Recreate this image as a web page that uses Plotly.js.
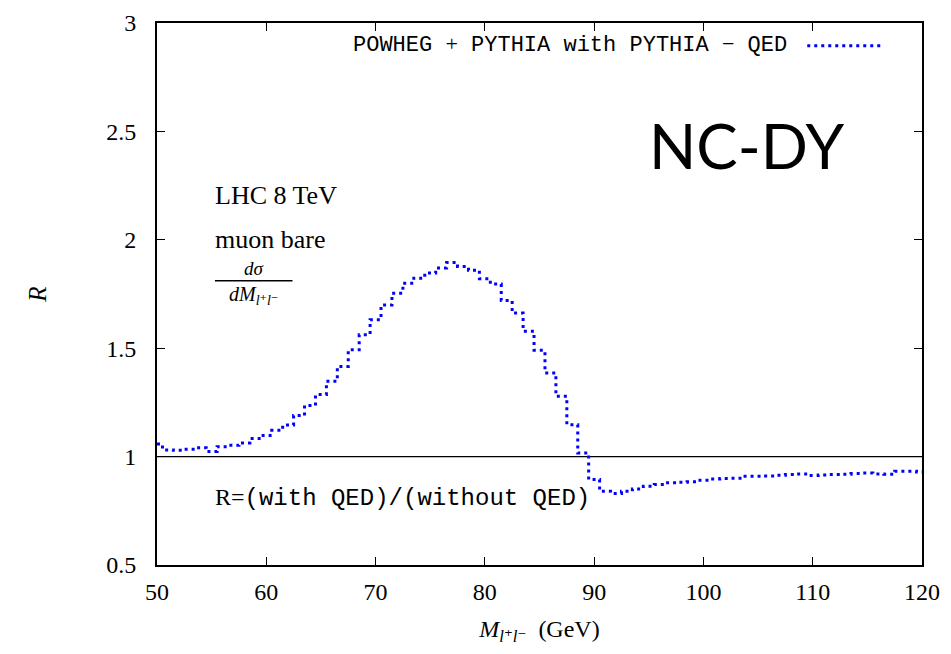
<!DOCTYPE html>
<html>
<head>
<meta charset="utf-8">
<script src="https://cdn.plot.ly/plotly-3.0.1.min.js"></script>
<style>
  body { margin: 0; background: #fff; }
  #myGraph { width: 951px; height: 654px; }
</style>
</head>
<body>
<div id="myGraph"></div>
<script>
// dilepton invariant mass bins (GeV), bin centres
const massBins = [50, 51, 52, 53, 54, 55, 56, 57, 58, 59,
    60, 61, 62, 63, 64, 65, 66, 67, 68, 69,
    70, 71, 72, 73, 74, 75, 76, 77, 78, 79,
    80, 81, 82, 83, 84, 85, 86, 87, 88, 89,
    90, 91, 92, 93, 94, 95, 96, 97, 98, 99,
    100, 101, 102, 103, 104, 105, 106, 107, 108, 109,
    110, 111, 112, 113, 114, 115, 116, 117, 118, 119, 120];

// R = (with QED)/(without QED), POWHEG + PYTHIA with PYTHIA-QED
const ratioR = [1.058, 1.031, 1.029, 1.034, 1.041, 1.024, 1.046, 1.052, 1.063, 1.083,
    1.097, 1.121, 1.146, 1.189, 1.236, 1.286, 1.347, 1.416, 1.493, 1.562,
    1.631, 1.699, 1.754, 1.800, 1.823, 1.847, 1.870, 1.895, 1.877, 1.860,
    1.820, 1.796, 1.720, 1.662, 1.578, 1.490, 1.386, 1.278, 1.147, 1.017,
    0.894, 0.840, 0.830, 0.840, 0.851, 0.863, 0.871, 0.879, 0.882, 0.884,
    0.891, 0.897, 0.899, 0.900, 0.909, 0.909, 0.911, 0.914, 0.917, 0.920,
    0.913, 0.915, 0.917, 0.919, 0.922, 0.924, 0.920, 0.919, 0.932, 0.932, 0.929];

const unityRatio = 1;
const xTicks = [50, 60, 70, 80, 90, 100, 110, 120];
const yTicks = [0.5, 1, 1.5, 2, 2.5, 3];
const yTickText = ['0.5', '1', '1.5', '2', '2.5', '3'];

const serif = 'Liberation Serif, DejaVu Serif, serif';
const mono = 'Liberation Mono, DejaVu Sans Mono, monospace';

const ratioTrace = {
    x: massBins,
    y: ratioR,
    type: 'scatter',
    mode: 'lines',
    line: { color: '#0000ff', width: 3, dash: '3px,4px', shape: 'hvh' },
    showlegend: false,
    hoverinfo: 'x+y'
};

const unityTrace = {
    x: [massBins[0], massBins[massBins.length - 1]],
    y: [unityRatio, unityRatio],
    type: 'scatter',
    mode: 'lines',
    line: { color: '#000', width: 1.3 },
    showlegend: false,
    hoverinfo: 'skip'
};

const data = [unityTrace, ratioTrace];

const layout = {
    width: 951,
    height: 654,
    autosize: false,
    margin: { l: 157, r: 29, t: 23, b: 89 },
    paper_bgcolor: '#fff',
    plot_bgcolor: '#fff',
    font: { family: serif, size: 24, color: '#000' },
    xaxis: {
        range: [50, 120],
        tickvals: xTicks,
        ticks: 'inside',
        ticklen: 8,
        tickwidth: 1.2,
        tickcolor: '#000',
        showline: true,
        linewidth: 2,
        linecolor: '#000',
        mirror: 'ticks',
        showgrid: false,
        zeroline: false,
        ticklabelstandoff: 4,
        tickfont: { family: serif, size: 24 },
        title: {
            text: '<i>M</i><sub><i>l</i>⁺<i>l</i>⁻</sub>  (GeV)',
            font: { family: serif, size: 24 },
            standoff: 16
        }
    },
    yaxis: {
        range: [0.5, 3],
        tickvals: yTicks,
        ticktext: yTickText,
        ticks: 'inside',
        ticklen: 8,
        tickwidth: 1.2,
        tickcolor: '#000',
        showline: true,
        linewidth: 2,
        linecolor: '#000',
        mirror: 'ticks',
        showgrid: false,
        zeroline: false,
        ticklabelstandoff: 14,
        tickfont: { family: serif, size: 24 },
        title: {
            text: '<i>R</i>',
            font: { family: serif, size: 25 },
            standoff: 52
        }
    },
    shapes: [
        // legend sample
        {
            type: 'line', xref: 'x', yref: 'y',
            x0: 109.5, x1: 116.4, y0: 2.895, y1: 2.895,
            line: { color: '#0000ff', width: 3, dash: '3px,4px' }
        },
        // fraction bar
        {
            type: 'line', xref: 'x', yref: 'y',
            x0: 55.3, x1: 62.4, y0: 1.811, y1: 1.811,
            line: { color: '#000', width: 1.5 }
        }
    ],
    annotations: [
        {
            x: 107.8, y: 2.9, xref: 'x', yref: 'y',
            xanchor: 'right', yanchor: 'middle', showarrow: false,
            text: 'POWHEG <span style="font-family:Liberation Serif">+</span> PYTHIA with PYTHIA <span style="font-family:Liberation Serif">−</span> QED',
            font: { family: mono, size: 22 }
        },
        {
            x: 104.0, y: 2.438, xref: 'x', yref: 'y',
            xanchor: 'center', yanchor: 'middle', showarrow: false,
            text: 'NC-DY',
            font: { family: 'Lato, Open Sans, sans-serif', size: 62 }
        },
        {
            x: 55.1, y: 2.203, xref: 'x', yref: 'y',
            xanchor: 'left', yanchor: 'middle', showarrow: false,
            text: 'LHC 8 TeV',
            font: { family: serif, size: 26 }
        },
        {
            x: 55.1, y: 2.0, xref: 'x', yref: 'y',
            xanchor: 'left', yanchor: 'middle', showarrow: false,
            text: 'muon bare',
            font: { family: serif, size: 26 }
        },
        {
            x: 58.85, y: 1.816, xref: 'x', yref: 'y',
            xanchor: 'center', yanchor: 'bottom', showarrow: false,
            borderpad: 0,
            text: '<i>dσ</i>',
            font: { family: serif, size: 19 }
        },
        {
            x: 58.85, y: 1.806, xref: 'x', yref: 'y',
            xanchor: 'center', yanchor: 'top', showarrow: false,
            borderpad: 0,
            text: '<i>dM</i><sub><i>l</i>⁺<i>l</i>⁻</sub>',
            font: { family: serif, size: 20 }
        },
        {
            x: 55.1, y: 0.811, xref: 'x', yref: 'y',
            xanchor: 'left', yanchor: 'middle', showarrow: false,
            text: 'R=<span style="font-family:Liberation Mono">(with QED)/(without QED)</span>',
            font: { family: serif, size: 24 }
        }
    ]
};

Plotly.newPlot('myGraph', data, layout, { displayModeBar: false, staticPlot: true });
</script>
</body>
</html>
